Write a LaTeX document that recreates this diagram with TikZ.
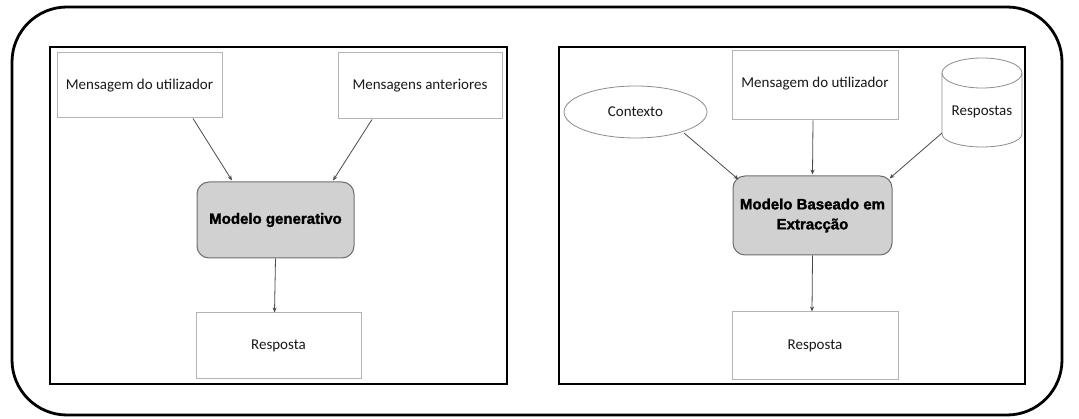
\documentclass[tikz,border=0pt]{standalone}
\usepackage{fontspec}
\setmainfont{Carlito}
\newfontfamily\headfont{Liberation Sans}[BoldFeatures={FakeBold=1.6}]
\usetikzlibrary{shapes.geometric,arrows.meta,calc}

\definecolor{modelfill}{HTML}{D2D1D2}
\definecolor{modeledge}{HTML}{6E6E6E}
\definecolor{boxedge}{HTML}{B4B4B4}
\definecolor{arrowcol}{HTML}{4A4A4A}

\tikzset{
  textbox/.style={draw=boxedge, line width=1pt, fill=white, inner sep=0pt,
    font=\fontsize{15}{18}\selectfont, text=black!90},
  modelbox/.style={draw=modeledge, line width=1pt, fill=modelfill, rounded corners=12pt,
    inner sep=0pt, align=center, font=\headfont\bfseries\fontsize{15}{20}\selectfont},
  ctxshape/.style={ellipse, draw=black!45, line width=0.8pt, inner sep=0pt,
    font=\fontsize{15}{18}\selectfont, text=black!90},
  storeedge/.style={draw=black!45, line width=0.8pt},
  flow/.style={draw=arrowcol, line width=0.8pt, -{Stealth[length=5pt,width=4pt]}},
  panel/.style={draw=black, line width=1.8pt},
  outerframe/.style={draw=black, line width=2.8pt, rounded corners=55pt}
}

\begin{document}
\begin{tikzpicture}[x=1pt,y=-1pt]
  \useasboundingbox (0,0) rectangle (1079,419);

  % outer rounded frame and the two panels
  \draw[outerframe] (12,7) rectangle (1062,415);
  \draw[panel] (50,47) rectangle (507,384);
  \draw[panel] (559,47) rectangle (1025,384);

  % ---- generative model ----
  \node[textbox, minimum width=165pt, minimum height=65pt] (userA) at (139.5,85.5) {Mensagem do utilizador};
  \node[textbox, minimum width=164pt, minimum height=66pt] (prev) at (420,86) {Mensagens anteriores};
  \node[modelbox, minimum width=157pt, minimum height=76pt] (gen) at (275.5,220) {Modelo generativo};
  \node[textbox, minimum width=165pt, minimum height=66pt] (ansA) at (278.5,346) {Resposta};

  \draw[flow] ($(userA.south)+(53.5,0)$) -- ($(gen.north)+(-43.5,-1)$);
  \draw[flow] ($(prev.south)+(-48,0)$) -- ($(gen.north)+(57.5,-1)$);
  \draw[flow] (gen.south) -- ($(ansA.north)+(-4,0)$);

  % ---- extraction-based model ----
  \node[textbox, minimum width=166pt, minimum height=69pt, text depth=6pt] (userB) at (815,85.5) {Mensagem do utilizador};
  \node[ctxshape, minimum width=143pt, minimum height=52pt] (ctx) at (635.5,112) {Contexto};

  % answer store drawn as a cylinder (y axis points down)
  \draw[storeedge, fill=white]
    (942,73) -- (942,134) arc[start angle=180, end angle=0, x radius=40, y radius=13]
    -- (1022,73) arc[start angle=0, end angle=-180, x radius=40, y radius=15] -- cycle;
  \draw[storeedge]
    (942,73) arc[start angle=180, end angle=0, x radius=40, y radius=15];
  \node[font=\fontsize{15}{18}\selectfont, text=black!90, inner sep=0pt] (store) at (982,112) {Respostas};
  \coordinate (storeside) at (942,133);

  \node[modelbox, minimum width=159pt, minimum height=79pt] (ext) at (812.5,215.5) {Modelo Baseado em\\Extracção};
  \node[textbox, minimum width=166pt, minimum height=68pt] (ansB) at (815,346) {Resposta};

  \draw[flow] ($(ctx.center)+(48.5,21)$) -- ($(ext.north west)+(6,4)$);
  \draw[flow] ($(userB.south)+(-2,0)$) -- ($(ext.north)+(0,-1)$);
  \draw[flow] (storeside) -- ($(ext.north east)+(-3,3)$);
  \draw[flow] (ext.south) -- ($(ansB.north)+(-3,0)$);
\end{tikzpicture}
\end{document}
